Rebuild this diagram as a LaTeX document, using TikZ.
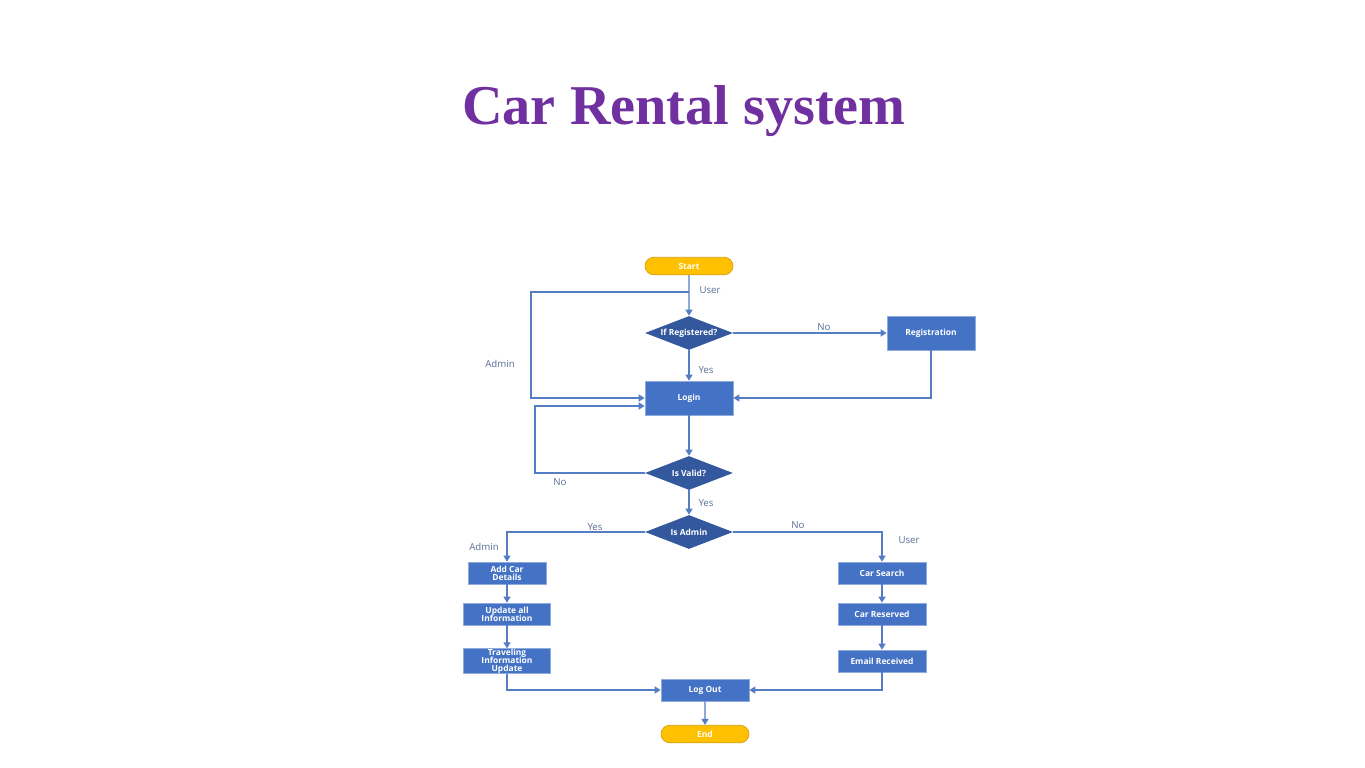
\documentclass[tikz,border=0pt]{standalone}
\usepackage{fontspec}
\setmainfont{Open Sans}
\newfontfamily\titlefont{Liberation Serif}
\usetikzlibrary{shapes.geometric, shapes.misc, arrows.meta, calc}
\definecolor{boxblue}{RGB}{68, 114, 196}
\definecolor{boxedge}{RGB}{143, 170, 220}
\definecolor{decblue}{RGB}{52, 88, 158}
\definecolor{termfill}{RGB}{255, 192, 0}
\definecolor{termedge}{RGB}{214, 160, 20}
\definecolor{flowline}{RGB}{84, 125, 195}
\definecolor{labelc}{RGB}{88, 108, 148}
\definecolor{titlepurple}{RGB}{112, 48, 160}
\newcommand{\boxfont}{\fontsize{4.8}{4.6}\selectfont\bfseries\lineskiplimit-5pt\relax}
\tikzset{
    font=\boxfont,
    terminal/.style={rounded rectangle, draw=termedge, fill=termfill, text=white, minimum width=1.76cm, minimum height=0.35cm, inner sep=0pt},
    process/.style={rectangle, draw=boxedge, fill=boxblue, text=white, align=center, minimum width=1.76cm, minimum height=0.44cm, inner sep=1pt},
    decision/.style={diamond, fill=decblue, text=white, minimum width=1.76cm, minimum height=0.68cm, inner sep=0pt, aspect=2.6},
    flow/.style={-{Triangle[width=4pt,length=3.4pt]}, draw=flowline, line width=0.75pt},
    edge_label/.style={text=labelc, font=\fontsize{5.5}{6}\selectfont}
}

\begin{document}
\begin{tikzpicture}[x=0.02cm, y=-0.02cm]
    \useasboundingbox (0,0) rectangle (1365,767);

    \node (title) [font=\titlefont\bfseries\fontsize{32}{36}\selectfont, text=titlepurple, anchor=base] at (684,125) {Car Rental system};

    % Main column
    \node (start)        [terminal] at (689,266) {Start};
    \node (ifreg)        [decision] at (689,333) {If Registered?};
    \node (registration) [process, minimum height=0.68cm] at (931,333) {Registration};
    \node (login)        [process, minimum height=0.68cm] at (689,398) {Login};
    \node (isvalid)      [decision] at (689,473) {Is Valid?};
    \node (isadmin)      [decision] at (689,532) {Is Admin};

    % Admin side
    \node (addcar)  [process, minimum width=1.56cm] at (507,573) {Add Car\\Details};
    \node (updinfo) [process, minimum width=1.74cm] at (507,614) {Update all\\Information};
    \node (travel)  [process, minimum width=1.74cm, inner ysep=0pt] at (507,661) {Traveling\\Information\\Update};

    % User side
    \node (carsearch) [process] at (882,573) {Car Search};
    \node (carres)    [process] at (882,614) {Car Reserved};
    \node (email)     [process] at (882,661) {Email Received};

    \node (logout) [process] at (705,690) {Log Out};
    \node (finish) [terminal] at (705,734) {End};

    % Labels
    \node (lbluser1)  [edge_label] at (710,290) {User};
    \node (lblno1)    [edge_label] at (824,327) {No};
    \node (lbladmin1) [edge_label] at (500,364) {Admin};
    \node (lblyes1)   [edge_label] at (706,370) {Yes};
    \node (lblno2)    [edge_label] at (560,482) {No};
    \node (lblyes2)   [edge_label] at (706,503) {Yes};
    \node (lblyes3)   [edge_label] at (595,527) {Yes};
    \node (lblno3)    [edge_label] at (798,525) {No};
    \node (lbladmin2) [edge_label] at (484,547) {Admin};
    \node (lbluser2)  [edge_label] at (909,540) {User};

    % Connectors
    \coordinate (split) at (689,292);
    \coordinate (adminturn) at (531,292);
    \coordinate (retryturn) at (535,473);

    \draw [flow] (start) -- (ifreg);
    \draw [flow] (split) -- (adminturn) |- (login.west);
    \draw [flow] (ifreg) -- (registration);
    \draw [flow] (registration.south) |- (login.east);
    \draw [flow] (ifreg) -- (login);
    \draw [flow] (login) -- (isvalid);
    \draw [flow] (isvalid.west) -- (retryturn) |- ($(login.west)+(0,8)$);
    \draw [flow] (isvalid) -- (isadmin);
    \draw [flow] (isadmin.west) -| (addcar.north);
    \draw [flow] (isadmin.east) -| (carsearch.north);
    \draw [flow] (addcar) -- (updinfo);
    \draw [flow] (updinfo) -- (travel);
    \draw [flow] (carsearch) -- (carres);
    \draw [flow] (carres) -- (email);
    \draw [flow] (travel.south) |- (logout.west);
    \draw [flow] (email.south) |- (logout.east);
    \draw [flow] (logout) -- (finish);

\end{tikzpicture}
\end{document}
